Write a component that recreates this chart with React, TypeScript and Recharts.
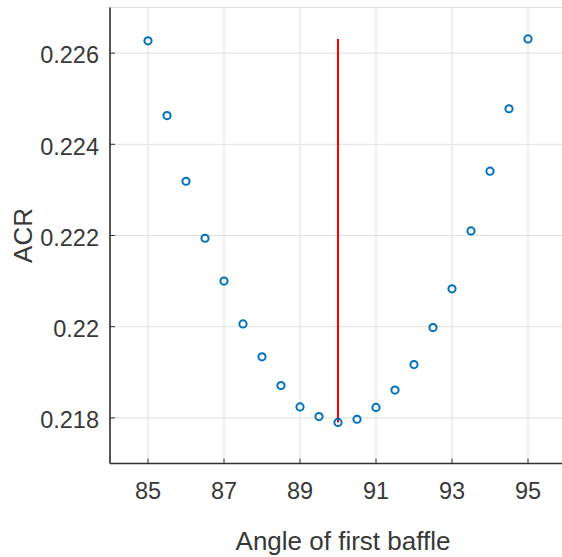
import React from "react";
import {
  ScatterChart,
  Scatter,
  XAxis,
  YAxis,
  CartesianGrid,
  ReferenceLine,
} from "recharts";

const angles = [85, 85.5, 86, 86.5, 87, 87.5, 88, 88.5, 89, 89.5, 90, 90.5, 91, 91.5, 92, 92.5, 93, 93.5, 94, 94.5, 95];
const acr = [0.22627, 0.22463, 0.22319, 0.22194, 0.221, 0.22006, 0.21934, 0.21871, 0.21824, 0.21803, 0.2179, 0.21797, 0.21823, 0.21861, 0.21917, 0.21998, 0.22083, 0.2221, 0.22341, 0.22478, 0.22631];
const xTicks = [85, 87, 89, 91, 93, 95];
const yTicks = [0.218, 0.22, 0.222, 0.224, 0.226];
const xDomain = [84, 96];
const yDomain = [0.217, 0.227];
const optimumAngle = 90;

const points = angles.map((a, i) => ({ x: a, y: acr[i] }));
const yMin = Math.min(...acr);
const yMax = Math.max(...acr);

const FONT = "'Liberation Sans', Arial, Helvetica, sans-serif";
const AXIS = "#303030";
const TEXT = "#383838";
const GRID = "#dfdfdf";

const Marker = (props: any) => (
  <circle cx={props.cx} cy={props.cy} r={3.6} fill="none" stroke="#0072BD" strokeWidth={2} />
);

const fmtY = (v: number) => String(+v.toFixed(3));

export default function App() {
  return (
    <div style={{ position: "absolute", left: 0, top: 0, width: 562, height: 557, overflow: "hidden", background: "#fff" }}>
      <ScatterChart
        width={566}
        height={557}
        margin={{ top: 7.5, right: 0, bottom: 0, left: 0 }}
        style={{ fontFamily: FONT }}
      >
        <CartesianGrid stroke={GRID} strokeWidth={1} />
        <XAxis
          type="number"
          dataKey="x"
          domain={xDomain}
          ticks={xTicks}
          allowDataOverflow
          height={93.5}
          tickSize={-5}
          tickMargin={23.5}
          axisLine={{ stroke: AXIS, strokeWidth: 1.6 }}
          tickLine={{ stroke: AXIS, strokeWidth: 1 }}
          tick={{ fill: TEXT, fontSize: 23.5, fontFamily: FONT }}
          label={{ value: "Angle of first baffle", position: "insideBottom", offset: 7, dx: 5, fill: TEXT, fontSize: 26, fontFamily: FONT }}
        />
        <XAxis
          xAxisId="top"
          orientation="top"
          type="number"
          domain={xDomain}
          ticks={xTicks}
          allowDataOverflow
          height={0}
          tickSize={-5}
          tick={false}
          axisLine={{ stroke: AXIS, strokeWidth: 1.6 }}
          tickLine={{ stroke: AXIS, strokeWidth: 1 }}
        />
        <YAxis
          type="number"
          dataKey="y"
          domain={yDomain}
          ticks={yTicks}
          allowDataOverflow
          width={110}
          tickSize={-5}
          tickMargin={16}
          tickFormatter={fmtY}
          axisLine={{ stroke: AXIS, strokeWidth: 1.6 }}
          tickLine={{ stroke: AXIS, strokeWidth: 1 }}
          tick={{ fill: TEXT, fontSize: 23.5, fontFamily: FONT, dy: 2 }}
          label={{ value: "ACR", angle: -90, position: "insideLeft", offset: 23, textAnchor: "middle", fill: TEXT, fontSize: 26, fontFamily: FONT }}
        />
        <YAxis
          yAxisId="right"
          orientation="right"
          type="number"
          domain={yDomain}
          ticks={yTicks}
          allowDataOverflow
          width={0}
          tickSize={-5}
          tick={false}
          axisLine={{ stroke: AXIS, strokeWidth: 1.6 }}
          tickLine={{ stroke: AXIS, strokeWidth: 1 }}
        />
        <ReferenceLine
          segment={[
            { x: optimumAngle, y: yMin },
            { x: optimumAngle, y: yMax },
          ]}
          stroke="#FF0000"
          strokeWidth={2}
          ifOverflow="visible"
        />
        <Scatter data={points} shape={Marker} isAnimationActive={false} />
      </ScatterChart>
    </div>
  );
}
